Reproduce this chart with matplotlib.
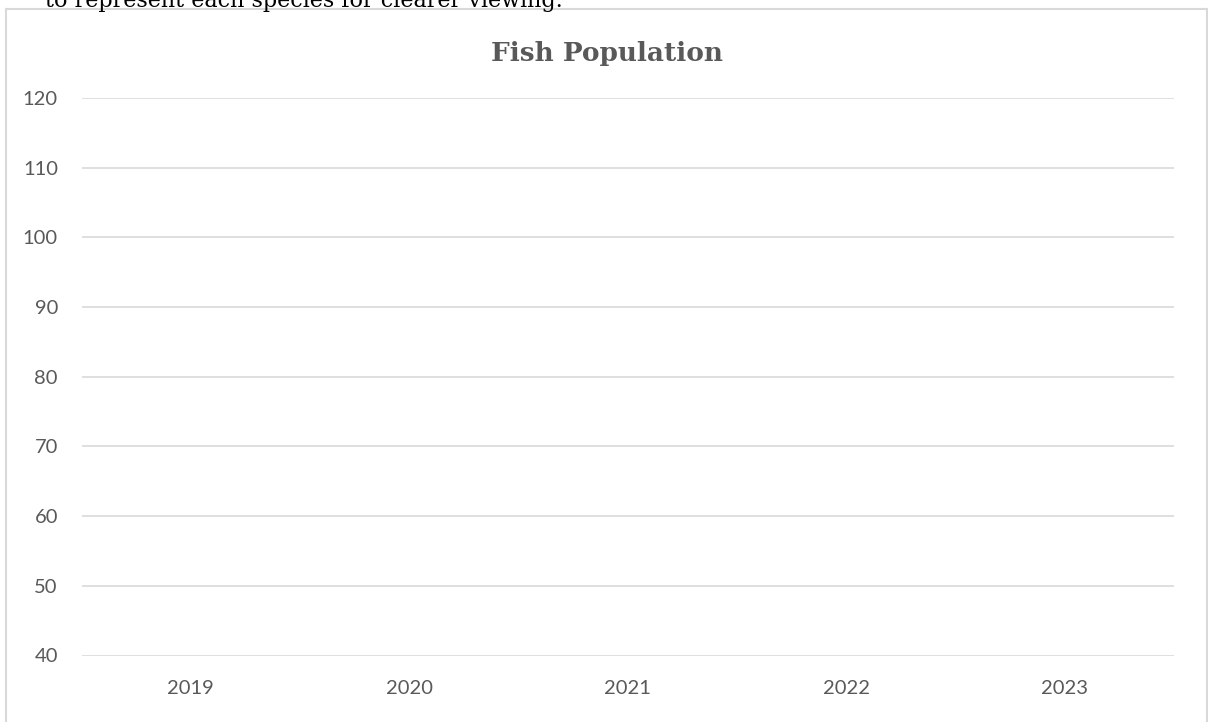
import numpy as np
import matplotlib.pyplot as plt
from matplotlib.lines import Line2D

# chart data (the reference chart has no plotted series)
years = ["2019", "2020", "2021", "2022", "2023"]
y_ticks = [40, 50, 60, 70, 80, 90, 100, 110, 120]
title = "Fish Population"
caption = "to represent each species for clearer viewing."

grey_text = "#595959"
grid_col = "#d9d9d9"

fig = plt.figure(figsize=(12.08, 7.22), dpi=100)
ax = fig.add_axes([81.5 / 1208, 1 - 655.5 / 722, (1174 - 81.5) / 1208, (655.5 - 98) / 722])

x = np.arange(len(years))
ax.set_xlim(-0.5, len(years) - 0.5)
ax.set_ylim(min(y_ticks), max(y_ticks))
ax.set_xticks(x)
ax.set_xticklabels(years)
ax.set_yticks(y_ticks)

ax.grid(axis="y", color=grid_col, linewidth=1.2)
ax.set_axisbelow(True)
for s in ax.spines.values():
    s.set_visible(False)
ax.tick_params(axis="both", length=0, colors=grey_text, labelsize=14.5)
ax.tick_params(axis="x", pad=18)
ax.tick_params(axis="y", pad=17)
for lab in ax.get_xticklabels() + ax.get_yticklabels():
    lab.set_family("Lato")

fig.text(607 / 1208, 1 - 53 / 722, title, ha="center", va="center",
         fontsize=19, fontweight="bold", color=grey_text, family="DejaVu Serif")

# cut-off document text above the chart
fig.text(45 / 1208, 1 - 6.5 / 722, caption, ha="left", va="baseline",
         fontsize=16, color="black", family="DejaVu Serif")

# chart frame
fx0, fx1, fy = 5.5 / 1208, 1206.5 / 1208, 1 - 8.5 / 722
kw = dict(color=grid_col, linewidth=1.5, transform=fig.transFigure)
fig.add_artist(Line2D([fx0, fx1], [fy, fy], **kw))
fig.add_artist(Line2D([fx0, fx0], [0, fy], **kw))
fig.add_artist(Line2D([fx1, fx1], [0, fy], **kw))

fig.savefig("out.png", dpi=100)
